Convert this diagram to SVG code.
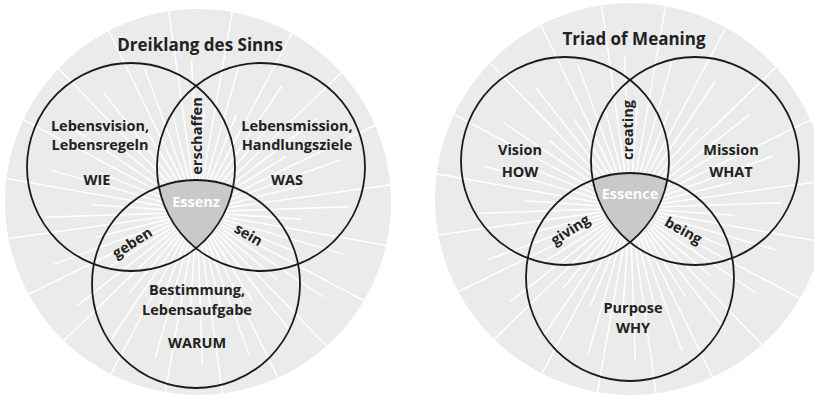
<svg xmlns="http://www.w3.org/2000/svg" xmlns:xlink="http://www.w3.org/1999/xlink" width="814" height="398" viewBox="0 0 814 398">
<style>
.bg{fill:#ebebeb}
.ray{stroke:#fff;stroke-width:1.5;fill:none}
.vc{fill:none;stroke:#1a1a1a;stroke-width:1.8}
.core{fill:#c9c9c9;stroke:none}
.t{font-family:"Open Sans","DejaVu Sans",sans-serif;font-weight:700;font-size:14.5px;fill:#222;text-anchor:middle}
.ttl{font-size:17px}
.ess{fill:#fff}
</style>
<defs>
<clipPath id="clipL"><circle cx="198" cy="202" r="193"/></clipPath>
<clipPath id="clipR"><circle cx="631" cy="199" r="196"/></clipPath>
<line id="rL" class="ray" x1="28" y1="0" x2="240" y2="0"/>
<line id="rM" class="ray" x1="28" y1="0" x2="152" y2="0"/>
<line id="rS" class="ray" x1="28" y1="0" x2="105" y2="0"/>
<g id="rays">
<use href="#rL" transform="rotate(10)"/><use href="#rL" transform="rotate(28)"/><use href="#rL" transform="rotate(46)"/><use href="#rL" transform="rotate(64)"/><use href="#rL" transform="rotate(82)"/><use href="#rL" transform="rotate(100)"/><use href="#rL" transform="rotate(118)"/><use href="#rL" transform="rotate(136)"/><use href="#rL" transform="rotate(154)"/><use href="#rL" transform="rotate(172)"/><use href="#rL" transform="rotate(190)"/><use href="#rL" transform="rotate(208)"/><use href="#rL" transform="rotate(226)"/><use href="#rL" transform="rotate(244)"/><use href="#rL" transform="rotate(262)"/><use href="#rL" transform="rotate(280)"/><use href="#rL" transform="rotate(298)"/><use href="#rL" transform="rotate(316)"/><use href="#rL" transform="rotate(334)"/><use href="#rL" transform="rotate(352)"/>
<use href="#rM" transform="rotate(16)"/><use href="#rM" transform="rotate(34)"/><use href="#rM" transform="rotate(52)"/><use href="#rM" transform="rotate(70)"/><use href="#rM" transform="rotate(88)"/><use href="#rM" transform="rotate(106)"/><use href="#rM" transform="rotate(124)"/><use href="#rM" transform="rotate(142)"/><use href="#rM" transform="rotate(160)"/><use href="#rM" transform="rotate(178)"/><use href="#rM" transform="rotate(196)"/><use href="#rM" transform="rotate(214)"/><use href="#rM" transform="rotate(232)"/><use href="#rM" transform="rotate(250)"/><use href="#rM" transform="rotate(268)"/><use href="#rM" transform="rotate(286)"/><use href="#rM" transform="rotate(304)"/><use href="#rM" transform="rotate(322)"/><use href="#rM" transform="rotate(340)"/><use href="#rM" transform="rotate(358)"/>
<use href="#rS" transform="rotate(4)"/><use href="#rS" transform="rotate(22)"/><use href="#rS" transform="rotate(40)"/><use href="#rS" transform="rotate(58)"/><use href="#rS" transform="rotate(76)"/><use href="#rS" transform="rotate(94)"/><use href="#rS" transform="rotate(112)"/><use href="#rS" transform="rotate(130)"/><use href="#rS" transform="rotate(148)"/><use href="#rS" transform="rotate(166)"/><use href="#rS" transform="rotate(184)"/><use href="#rS" transform="rotate(202)"/><use href="#rS" transform="rotate(220)"/><use href="#rS" transform="rotate(238)"/><use href="#rS" transform="rotate(256)"/><use href="#rS" transform="rotate(274)"/><use href="#rS" transform="rotate(292)"/><use href="#rS" transform="rotate(310)"/><use href="#rS" transform="rotate(328)"/><use href="#rS" transform="rotate(346)"/>
</g>
</defs>

<!-- Left diagram: Dreiklang des Sinns -->
<g id="backdrop-de">
<circle class="bg" cx="198" cy="202" r="193"/>
<g clip-path="url(#clipL)"><use href="#rays" transform="translate(197 212)"/></g>
</g>
<text id="title-de" class="t ttl" x="200" y="51">Dreiklang des Sinns</text>
<g id="essenz">
<path class="core" d="M159,187 A104,104 0 0 1 233,187 A104,104 0 0 1 196,248.2 A104,104 0 0 1 159,187 Z"/>
<text class="t ess" x="196" y="207">Essenz</text>
</g>
<g id="wie">
<circle class="vc" cx="131" cy="167" r="104"/>
<text class="t" x="100" y="131">Lebensvision,</text>
<text class="t" x="100" y="150">Lebensregeln</text>
<text class="t" x="97" y="185">WIE</text>
</g>
<g id="was">
<circle class="vc" cx="261" cy="167" r="104"/>
<text class="t" x="297" y="131">Lebensmission,</text>
<text class="t" x="297" y="150">Handlungsziele</text>
<text class="t" x="287" y="185">WAS</text>
</g>
<g id="warum">
<circle class="vc" cx="196" cy="284" r="104"/>
<text class="t" x="197" y="295">Bestimmung,</text>
<text class="t" x="197" y="315">Lebensaufgabe</text>
<text class="t" x="197" y="348">WARUM</text>
</g>
<g id="overlaps-de">
<text class="t" transform="translate(202 136) rotate(-90)">erschaffen</text>
<text class="t" transform="translate(135 247) rotate(-33)">geben</text>
<text class="t" transform="translate(246 239) rotate(30)">sein</text>
</g>

<!-- Right diagram: Triad of Meaning -->
<g id="backdrop-en">
<circle class="bg" cx="631" cy="199" r="196"/>
<g clip-path="url(#clipR)"><use href="#rays" transform="translate(630 208)"/></g>
</g>
<text id="title-en" class="t ttl" x="634" y="45">Triad of Meaning</text>
<g id="essence">
<path class="core" d="M592.7,179.9 A104,104 0 0 1 667.3,179.9 A104,104 0 0 1 630,242.2 A104,104 0 0 1 592.7,179.9 Z"/>
<text class="t ess" x="630" y="199">Essence</text>
</g>
<g id="how">
<circle class="vc" cx="565" cy="161" r="104"/>
<text class="t" x="520" y="155">Vision</text>
<text class="t" x="520" y="177">HOW</text>
</g>
<g id="what">
<circle class="vc" cx="695" cy="161" r="104"/>
<text class="t" x="731" y="155">Mission</text>
<text class="t" x="731" y="177">WHAT</text>
</g>
<g id="why">
<circle class="vc" cx="630" cy="277" r="104"/>
<text class="t" x="633" y="313">Purpose</text>
<text class="t" x="633" y="333">WHY</text>
</g>
<g id="overlaps-en">
<text class="t" transform="translate(633 130) rotate(-90)">creating</text>
<text class="t" transform="translate(573 234) rotate(-33)">giving</text>
<text class="t" transform="translate(681 235) rotate(29)">being</text>
</g>
</svg>
